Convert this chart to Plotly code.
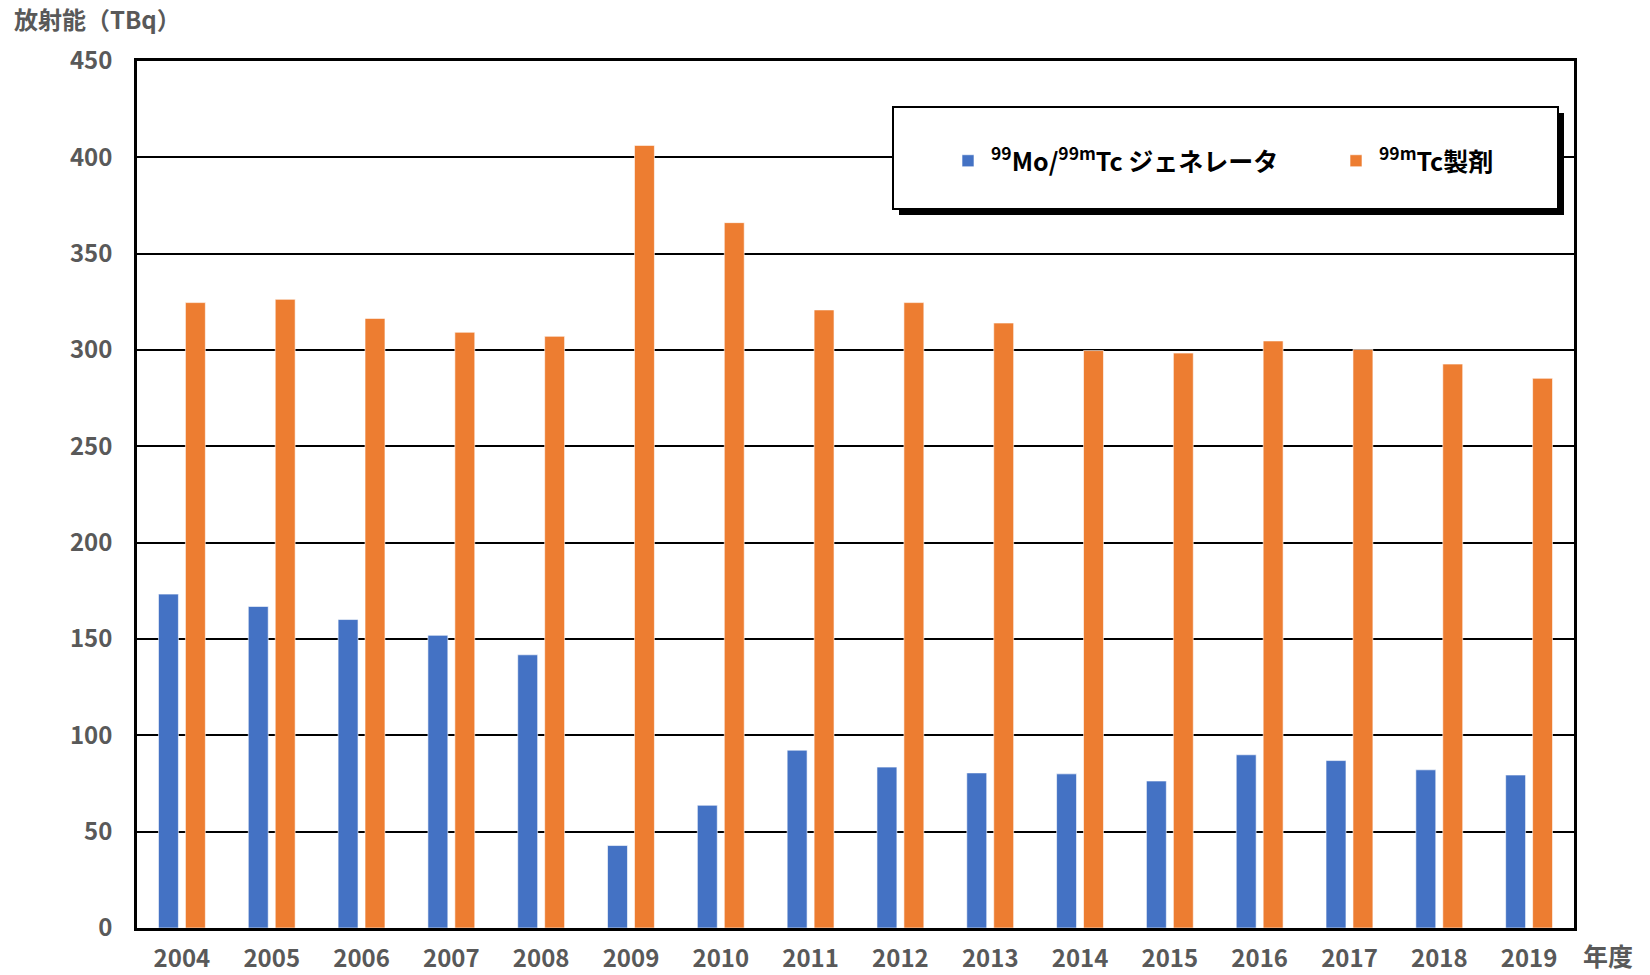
import plotly.graph_objects as go

years = ["2004", "2005", "2006", "2007", "2008", "2009", "2010", "2011",
         "2012", "2013", "2014", "2015", "2016", "2017", "2018", "2019"]
mo_tc_generator = [173.3, 166.9, 160.1, 151.9, 141.8, 42.8, 63.7, 92.3,
                   83.5, 80.5, 80.0, 76.3, 89.9, 86.9, 82.1, 79.4]
tc_preparation = [324.6, 326.3, 316.4, 309.2, 307.1, 406.2, 366.1, 320.8,
                  324.6, 314.0, 299.7, 298.4, 304.7, 300.3, 292.7, 285.3]
y_ticks = [0, 50, 100, 150, 200, 250, 300, 350, 400, 450]

name_blue = "<sup>99</sup>Mo/<sup>99m</sup>Tc ジェネレータ"
name_orange = "<sup>99m</sup>Tc製剤"

W, H = 1650, 975
L, R, T, B = 137, 76, 61, 47
PW, PH = W - L - R, H - T - B

def px_x(x):
    return (x - L) / PW

def px_y(y):
    return (H - B - y) / PH

FONT = "Noto Sans CJK JP"

fig = go.Figure()
fig.add_trace(go.Bar(
    x=years, y=mo_tc_generator, name=name_blue,
    marker=dict(color="#4472C4", line=dict(color="rgba(255,255,255,0.6)", width=1)),
    legend="legend", showlegend=True,
))
fig.add_trace(go.Bar(
    x=years, y=tc_preparation, name=name_orange,
    marker=dict(color="#ED7D31", line=dict(color="rgba(255,255,255,0.6)", width=1)),
    legend="legend2", showlegend=True,
))

# legend box with shadow
bx0, by0, bx1, by1 = 893, 107, 1558, 209
sh = 6
fig.add_shape(type="rect", xref="paper", yref="paper",
              x0=px_x(bx0 + sh), x1=px_x(bx1 + sh), y0=px_y(by1 + sh), y1=px_y(by0 + sh),
              fillcolor="black", line=dict(color="black", width=0), layer="above")
fig.add_shape(type="rect", xref="paper", yref="paper",
              x0=px_x(bx0), x1=px_x(bx1), y0=px_y(by1), y1=px_y(by0),
              fillcolor="white", line=dict(color="black", width=2), layer="above")

legend_common = dict(
    bgcolor="rgba(0,0,0,0)", borderwidth=0,
    font=dict(family=FONT, size=25, color="black", weight="bold"),
    xanchor="left", yanchor="middle", orientation="h",
    itemwidth=36, visible=True,
)

fig.update_layout(
    width=W, height=H,
    margin=dict(l=L, r=R, t=T, b=B, pad=0),
    paper_bgcolor="white", plot_bgcolor="white",
    showlegend=True,
    barmode="group", bargap=0.4, bargroupgap=0.26,
    font=dict(family=FONT, color="#595959"),
    legend=dict(x=px_x(970 - 25), y=px_y(161), **legend_common),
    legend2=dict(x=px_x(1358 - 25), y=px_y(161), **legend_common),
    xaxis=dict(
        type="category", showgrid=False, showline=True, mirror=True,
        linecolor="black", linewidth=2.5, ticks="", automargin=False,
        tickfont=dict(family=FONT, size=24, color="#595959", weight="bold"),
        ticklabelstandoff=7,
    ),
    yaxis=dict(
        range=[0, 450], tickvals=y_ticks, showgrid=True, gridcolor="black",
        gridwidth=2, showline=True, mirror=True, linecolor="black", linewidth=2.5,
        ticks="", zeroline=False, automargin=False,
        tickfont=dict(family=FONT, size=24, color="#595959", weight="bold"),
        ticklabelstandoff=17,
    ),
    annotations=[
        dict(text="放射能（TBq）", xref="paper", yref="paper", x=px_x(12), y=px_y(19),
             xanchor="left", yanchor="middle", showarrow=False,
             font=dict(family=FONT, size=24, color="#595959", weight="bold")),
        dict(text="年度", xref="paper", yref="paper", x=px_x(1581), y=px_y(955),
             xanchor="left", yanchor="middle", showarrow=False,
             font=dict(family=FONT, size=25, color="#595959", weight="bold")),
    ],
)

fig.write_html("out.html")
